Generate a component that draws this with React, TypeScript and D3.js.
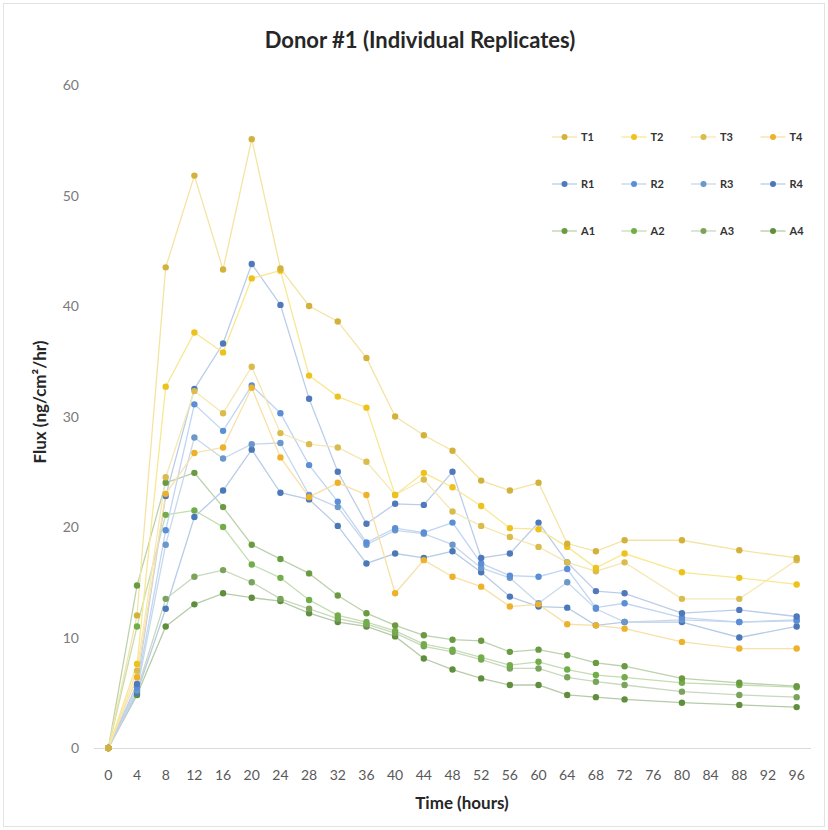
import React, { useEffect, useRef } from "react";
import * as d3 from "d3";

// category labels on the x axis (hours); 76, 84, 92 have no samples
const times = ["0", "4", "8", "12", "16", "20", "24", "28", "32", "36", "40", "44", "48", "52", "56", "60", "64", "68", "72", "76", "80", "84", "88", "92", "96"];
const sampled = ["0", "4", "8", "12", "16", "20", "24", "28", "32", "36", "40", "44", "48", "52", "56", "60", "64", "68", "72", "80", "88", "96"];

const yTicks = [0, 10, 20, 30, 40, 50, 60];

// flux values, one per sampled time point
const T1 = [0, 12.0, 43.5, 51.8, 43.3, 55.1, 43.4, 40.0, 38.6, 35.3, 30.0, 28.3, 26.9, 24.2, 23.3, 24.0, 18.5, 17.8, 18.8, 18.8, 17.9, 17.2];
const T2 = [0, 7.6, 32.7, 37.6, 35.8, 42.5, 43.2, 33.7, 31.8, 30.8, 22.9, 24.9, 23.6, 21.9, 19.9, 19.8, 18.2, 16.3, 17.6, 15.9, 15.4, 14.8];
const T3 = [0, 7.0, 24.5, 32.3, 30.3, 34.5, 28.5, 27.5, 27.2, 25.9, 22.9, 24.3, 21.4, 20.1, 19.1, 18.2, 16.8, 16.0, 16.8, 13.5, 13.5, 17.0];
const T4 = [0, 6.4, 23.0, 26.7, 27.2, 32.6, 26.3, 22.7, 24.0, 22.9, 14.0, 17.0, 15.5, 14.6, 12.8, 13.0, 11.2, 11.1, 10.8, 9.6, 9.0, 9.0];

const R1 = [0, 5.8, 22.8, 32.5, 36.6, 43.8, 40.1, 31.6, 25.0, 20.3, 22.1, 22.0, 25.0, 17.2, 17.6, 20.4, 16.8, 14.2, 14.0, 12.2, 12.5, 11.9];
const R2 = [0, 5.5, 19.7, 31.1, 28.7, 32.8, 30.3, 25.6, 22.3, 18.6, 19.9, 19.5, 20.4, 16.7, 15.6, 15.5, 16.2, 12.7, 13.1, 11.8, 11.4, 11.6];
const R3 = [0, 5.2, 18.4, 28.1, 26.2, 27.5, 27.6, 22.9, 21.8, 18.4, 19.7, 19.4, 18.4, 16.3, 15.4, 13.1, 15.0, 12.6, 11.4, 11.6, 11.4, 11.5];
const R4 = [0, 5.0, 12.6, 20.9, 23.3, 27.0, 23.1, 22.5, 20.1, 16.7, 17.6, 17.2, 17.8, 15.9, 13.7, 12.8, 12.7, 11.1, 11.4, 11.4, 10.0, 11.0];

const A1 = [0, 14.7, 24.0, 24.9, 21.8, 18.4, 17.1, 15.8, 13.8, 12.2, 11.1, 10.2, 9.8, 9.7, 8.7, 8.9, 8.4, 7.7, 7.4, 6.3, 5.9, 5.6];
const A2 = [0, 11.0, 21.1, 21.5, 20.0, 16.6, 15.4, 13.4, 12.0, 11.4, 10.6, 9.4, 8.9, 8.2, 7.5, 7.8, 7.1, 6.6, 6.4, 5.9, 5.7, 5.5];
const A3 = [0, 5.2, 13.5, 15.5, 16.1, 15.0, 13.5, 12.6, 11.7, 11.2, 10.4, 9.2, 8.7, 8.0, 7.2, 7.2, 6.4, 6.0, 5.7, 5.1, 4.8, 4.6];
const A4 = [0, 4.8, 11.0, 13.0, 14.0, 13.6, 13.3, 12.2, 11.4, 11.0, 10.1, 8.1, 7.1, 6.3, 5.7, 5.7, 4.8, 4.6, 4.4, 4.1, 3.9, 3.7];

const seriesNames = ["T1", "T2", "T3", "T4", "R1", "R2", "R3", "R4", "A1", "A2", "A3", "A4"];
const seriesValues = [T1, T2, T3, T4, R1, R2, R3, R4, A1, A2, A3, A4];
const markerColors = ["#D2B23C", "#EDC21C", "#D9BC4C", "#EDB12A", "#5079BC", "#5A8ED6", "#6B97C9", "#4A78B8", "#6A9A42", "#73AD4A", "#7AA35C", "#5F8F3C"];
const lineColors = ["#F4E4A4", "#F8E892", "#F5E8B6", "#F8E0A8", "#BCCDE9", "#C0D6F2", "#C8D8EC", "#B8CCE6", "#BCD2AC", "#C4DDB2", "#CAD8BF", "#B6CBA8"];

const W = 828;
const H = 830;
const FONT = "Lato, 'Open Sans', sans-serif";

export default function App() {
    const ref = useRef<SVGSVGElement>(null);

    useEffect(() => {
        const svg = d3.select(ref.current);
        svg.selectAll("*").remove();

        const x = d3.scaleBand().domain(times).range([94, 811]);
        const cx = (t: string) => (x(t) as number) + x.bandwidth() / 2;
        const y = d3.scaleLinear().domain([0, 60]).range([748, 85]);

        svg.append("rect")
            .attr("x", 3.5).attr("y", 3.5)
            .attr("width", W - 7).attr("height", H - 7)
            .attr("fill", "#fff").attr("stroke", "#E3E3E3");

        svg.append("text")
            .attr("x", 420).attr("y", 48)
            .attr("text-anchor", "middle")
            .attr("font-family", FONT).attr("font-weight", 700)
            .attr("font-size", 22).attr("fill", "#262626")
            .text("Donor #1 (Individual Replicates)");

        // y axis labels
        svg.append("g").selectAll("text").data(yTicks).join("text")
            .attr("x", 79).attr("y", (d) => y(d) + 5)
            .attr("text-anchor", "end")
            .attr("font-family", FONT).attr("font-size", 14).attr("fill", "#7A7A7A")
            .text((d) => d);

        // baseline
        svg.append("line")
            .attr("x1", 94).attr("x2", 811)
            .attr("y1", y(0) + 0.5).attr("y2", y(0) + 0.5)
            .attr("stroke", "#D9D9D9");

        // x axis labels
        svg.append("g").selectAll("text").data(times).join("text")
            .attr("x", (d) => cx(d)).attr("y", 780)
            .attr("text-anchor", "middle")
            .attr("font-family", FONT).attr("font-size", 14).attr("fill", "#595959")
            .text((d) => d);

        svg.append("text")
            .attr("x", 462).attr("y", 809)
            .attr("text-anchor", "middle")
            .attr("font-family", FONT).attr("font-weight", 700)
            .attr("font-size", 17).attr("fill", "#262626")
            .text("Time (hours)");

        svg.append("text")
            .attr("transform", "translate(46,402) rotate(-90)")
            .attr("text-anchor", "middle")
            .attr("font-family", FONT).attr("font-weight", 700)
            .attr("font-size", 17).attr("fill", "#262626")
            .text("Flux (ng/cm²/hr)");

        const line = d3.line<number>()
            .x((_, i) => cx(sampled[i]))
            .y((d) => y(d));

        // draw from last to first so the T series sit on top
        const order = d3.range(seriesValues.length).reverse();
        const plot = svg.append("g");
        order.forEach((s) => {
            plot.append("path")
                .attr("d", line(seriesValues[s]))
                .attr("fill", "none")
                .attr("stroke", lineColors[s])
                .attr("stroke-width", 1.3);
        });
        order.forEach((s) => {
            plot.append("g").selectAll("circle").data(seriesValues[s]).join("circle")
                .attr("cx", (_, i) => cx(sampled[i]))
                .attr("cy", (d) => y(d))
                .attr("r", 3.2)
                .attr("fill", markerColors[s]);
        });

        // legend, 4 columns x 3 rows
        const legend = svg.append("g");
        seriesNames.forEach((name, s) => {
            const col = s % 4;
            const row = Math.floor(s / 4);
            const lx = 552 + col * 69.5;
            const ly = 137 + row * 47;
            legend.append("line")
                .attr("x1", lx).attr("x2", lx + 25)
                .attr("y1", ly).attr("y2", ly)
                .attr("stroke", lineColors[s]).attr("stroke-width", 1.3);
            legend.append("circle")
                .attr("cx", lx + 12.5).attr("cy", ly).attr("r", 3)
                .attr("fill", markerColors[s]);
            legend.append("text")
                .attr("x", lx + 29).attr("y", ly + 4)
                .attr("font-family", FONT).attr("font-weight", 700)
                .attr("font-size", 11).attr("fill", "#333333")
                .text(name);
        });
    }, []);

    return (
        <svg
            ref={ref}
            width={W}
            height={H}
            style={{ position: "absolute", left: 0, top: 0 }}
        />
    );
}
